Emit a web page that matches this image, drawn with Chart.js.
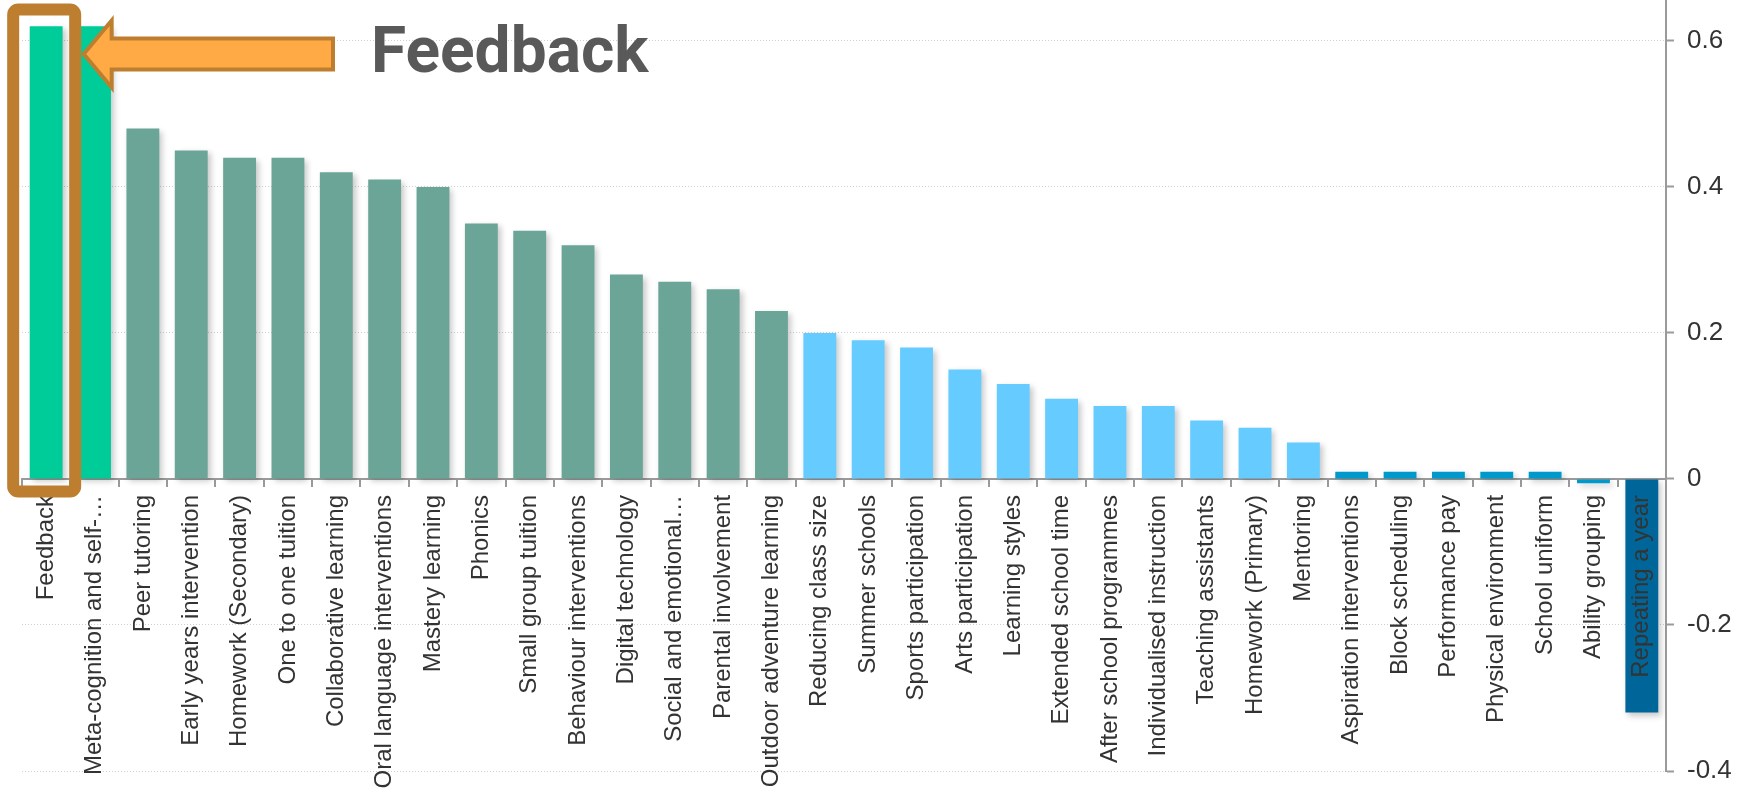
<!DOCTYPE html>
<html>
<head>
<meta charset="utf-8">
<title>Teaching and Learning Toolkit – effect sizes</title>
<script src="https://cdn.jsdelivr.net/npm/chart.js@4.4.1/dist/chart.umd.min.js"></script>
<style>
  html, body { margin: 0; padding: 0; background: #ffffff; }
  #wrap { position: relative; width: 1750px; height: 789px; }
  canvas { display: block; }
</style>
</head>
<body>
<div id="wrap"><canvas id="chart" width="1750" height="789"></canvas></div>
<script>
// Approaches, ordered by average impact
const categories = [
  'Feedback',
  'Meta-cognition and self-regulation',
  'Peer tutoring',
  'Early years intervention',
  'Homework (Secondary)',
  'One to one tuition',
  'Collaborative learning',
  'Oral language interventions',
  'Mastery learning',
  'Phonics',
  'Small group tuition',
  'Behaviour interventions',
  'Digital technology',
  'Social and emotional learning',
  'Parental involvement',
  'Outdoor adventure learning',
  'Reducing class size',
  'Summer schools',
  'Sports participation',
  'Arts participation',
  'Learning styles',
  'Extended school time',
  'After school programmes',
  'Individualised instruction',
  'Teaching assistants',
  'Homework (Primary)',
  'Mentoring',
  'Aspiration interventions',
  'Block scheduling',
  'Performance pay',
  'Physical environment',
  'School uniform',
  'Ability grouping',
  'Repeating a year'
];

// Effect size for each approach
const effectSizes = [
  0.62, 0.62, 0.48, 0.45, 0.44, 0.44, 0.42, 0.41, 0.40, 0.35,
  0.34, 0.32, 0.28, 0.27, 0.26, 0.23, 0.20, 0.19, 0.18, 0.15,
  0.13, 0.11, 0.10, 0.10, 0.08, 0.07, 0.05, 0.01, 0.01, 0.01,
  0.01, 0.01, -0.006, -0.32
];

// Value-axis tick values
const yTickValues = [-0.4, -0.2, 0, 0.2, 0.4, 0.6];

// Bar colour by impact band
function colourFor(v) {
  if (v >= 0.55) return '#00cc99';
  if (v >= 0.21) return '#6ba597';
  if (v >= 0.03) return '#66ccff';
  if (v >= -0.1) return '#0099cc';
  return '#006699';
}

// Long category names are cut at a word break and given an ellipsis
const LABEL_FONT = '24px "Liberation Sans", Arial, sans-serif';
const LABEL_MAX = 300;
const measureCtx = document.createElement('canvas').getContext('2d');
measureCtx.font = LABEL_FONT;
function shorten(text) {
  if (measureCtx.measureText(text).width <= LABEL_MAX) return text;
  const parts = text.match(/[^\s-]+[\s-]*/g) || [text];
  let out = '';
  for (const p of parts) {
    const candidate = (out + p).trimEnd() + '\u2026';
    if (measureCtx.measureText(candidate).width > LABEL_MAX) break;
    out += p;
  }
  return out.trimEnd() + '\u2026';
}

// Soft drop shadow under the bars
const barShadow = {
  id: 'barShadow',
  beforeDatasetsDraw(chart) {
    const c = chart.ctx;
    c.save();
    c.shadowColor = 'rgba(0,0,0,0.22)';
    c.shadowBlur = 6;
    c.shadowOffsetX = 3;
    c.shadowOffsetY = 3;
  },
  afterDatasetsDraw(chart) {
    chart.ctx.restore();
  }
};

// Highlight box, arrow and caption for the first approach
const feedbackCallout = {
  id: 'feedbackCallout',
  afterDraw(chart) {
    const { ctx: c, scales: { x, y } } = chart;
    const cx = x.getPixelForValue(0);
    const zeroY = y.getPixelForValue(0);
    const lw = 12;
    const left = cx - 33, right = cx + 29;
    const top = 9.5, bottom = zeroY + 12.5;

    c.save();
    c.strokeStyle = '#bd7f2f';
    c.lineWidth = lw;
    c.lineJoin = 'round';
    c.beginPath();
    c.roundRect(left, top, right - left, bottom - top, 5);
    c.stroke();

    // left-pointing block arrow
    const tipX = right + lw / 2 + 2.5, midY = 54;
    const headX = tipX + 28;
    const tailX = 333;
    c.beginPath();
    c.moveTo(tipX, midY);
    c.lineTo(headX, midY - 33.5);
    c.lineTo(headX, midY - 15.5);
    c.lineTo(tailX, midY - 15.5);
    c.lineTo(tailX, midY + 15.5);
    c.lineTo(headX, midY + 15.5);
    c.lineTo(headX, midY + 33.5);
    c.closePath();
    c.fillStyle = '#ffaa44';
    c.fill();
    c.lineWidth = 4;
    c.lineJoin = 'miter';
    c.strokeStyle = '#bd7f2f';
    c.stroke();

    c.fillStyle = '#595959';
    c.font = 'bold 64px Roboto, "Liberation Sans", sans-serif';
    c.textBaseline = 'alphabetic';
    c.textAlign = 'left';
    c.fillText('Feedback', 371, 72);
    c.restore();
  }
};

new Chart(document.getElementById('chart').getContext('2d'), {
  type: 'bar',
  data: {
    labels: categories,
    datasets: [{
      data: effectSizes,
      backgroundColor: effectSizes.map(colourFor),
      borderWidth: 0,
      barPercentage: 0.68,
      categoryPercentage: 1
    }]
  },
  options: {
    responsive: false,
    animation: false,
    devicePixelRatio: 1,
    layout: { padding: { left: 22, right: 0, top: 0, bottom: 18 } },
    plugins: {
      legend: { display: false },
      tooltip: { enabled: false }
    },
    scales: {
      x: {
        position: { y: 0 },
        grid: {
          display: true,
          drawOnChartArea: false,
          drawTicks: true,
          tickLength: 7,
          color: '#9a9a9a',
          lineWidth: 2
        },
        border: { display: true, color: '#9a9a9a', width: 2 },
        ticks: {
          z: 1,
          autoSkip: false,
          minRotation: 90,
          maxRotation: 90,
          padding: 9,
          color: '#333333',
          font: { family: '"Liberation Sans", Arial, sans-serif', size: 24 },
          callback(value) { return shorten(this.getLabelForValue(value)); }
        },
        afterFit(s) { s.paddingLeft = 0; s.paddingRight = 0; }
      },
      y: {
        position: 'right',
        min: -0.4,
        max: 0.656,
        afterBuildTicks(s) { s.ticks = yTickValues.map(v => ({ value: v })); },
        ticks: {
          padding: 13,
          color: '#333333',
          font: { family: '"Liberation Sans", Arial, sans-serif', size: 26 },
          callback: v => String(Math.round(v * 10) / 10)
        },
        grid: {
          color: '#cfcfcf',
          lineWidth: 1,
          tickColor: '#9a9a9a',
          tickWidth: 2,
          tickLength: 8
        },
        border: { display: true, color: '#9a9a9a', width: 2, dash: [1, 2] },
        afterFit(s) { s.width = 84; s.paddingTop = 0; s.paddingBottom = 0; }
      }
    }
  },
  plugins: [barShadow, feedbackCallout]
});
</script>
</body>
</html>
